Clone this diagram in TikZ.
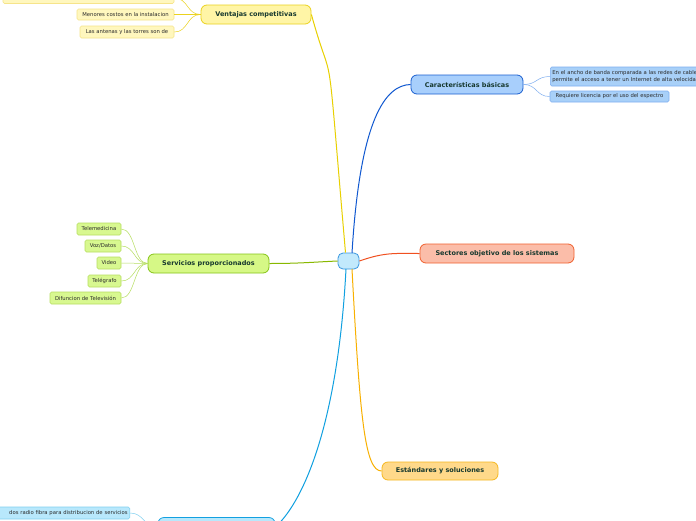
\documentclass[tikz,border=0pt]{standalone}
\usepackage{fontspec}
\setmainfont{DejaVu Sans}
\begin{document}
\begin{tikzpicture}[x=1pt,y=-1pt,
  main/.style={draw, rounded corners=6pt, line width=0.8pt, inner sep=0pt, font=\fontsize{6.5}{7.5}\selectfont\bfseries, text=txt, minimum height=19pt},
  sub/.style={draw, rounded corners=1.5pt, line width=0.6pt, inner sep=0pt, font=\fontsize{5.3}{6.3}\selectfont, text=subtxt, minimum height=11pt},
  conn/.style={line width=1pt},
  subconn/.style={line width=0.5pt}]
\definecolor{txt}{HTML}{16382E}
\definecolor{subtxt}{HTML}{2A2A2A}
\definecolor{yfill}{HTML}{FFF5A6}\definecolor{ydraw}{HTML}{EBD21E}\definecolor{yline}{HTML}{E8D000}
\definecolor{ysfill}{HTML}{FFF7BE}\definecolor{ysdraw}{HTML}{F6E48A}
\definecolor{bfill}{HTML}{A8CFFC}\definecolor{bdraw}{HTML}{1A5FD0}\definecolor{bline}{HTML}{1058D0}
\definecolor{bsfill}{HTML}{A8D0F8}\definecolor{bsdraw}{HTML}{7EAEF0}
\definecolor{rfill}{HTML}{FBBDA9}\definecolor{rdraw}{HTML}{F0602E}\definecolor{rline}{HTML}{F05020}
\definecolor{ofill}{HTML}{FFD98A}\definecolor{odraw}{HTML}{F6B820}\definecolor{oline}{HTML}{F8B000}
\definecolor{gfill}{HTML}{D6F886}\definecolor{gdraw}{HTML}{86C418}\definecolor{gline}{HTML}{88B800}
\definecolor{gsfill}{HTML}{D8F890}\definecolor{gsdraw}{HTML}{B6DE60}
\definecolor{cfill}{HTML}{C2E9FC}\definecolor{cdraw}{HTML}{3A98E0}
\definecolor{kfill}{HTML}{B8E8FC}\definecolor{kdraw}{HTML}{12A0E0}\definecolor{kline}{HTML}{10A0E0}
\definecolor{ksdraw}{HTML}{80D0F0}
\useasboundingbox (0,0) rectangle (696,520);
\clip (0,0) rectangle (696,520);
\fill[white] (0,0) rectangle (696,520);
% center
\node[draw=cdraw, fill=cfill, rounded corners=5pt, line width=0.8pt, minimum width=21pt, minimum height=16pt, inner sep=0pt] (c) at (348.5,261) {};
% main nodes
\node[main, fill=yfill, draw=ydraw, minimum width=110pt] (ven) at (256,14.5) {Ventajas competitivas};
\node[main, fill=bfill, draw=bdraw, minimum width=112pt] (car) at (467,84.5) {Características básicas};
\node[main, fill=rfill, draw=rdraw, minimum width=154pt] (sec) at (497,253.5) {Sectores objetivo de los sistemas};
\node[main, fill=ofill, draw=odraw, minimum width=116pt, minimum height=18pt] (est) at (440,471) {Estándares y soluciones};
\node[main, fill=gfill, draw=gdraw, minimum width=121pt] (ser) at (208.5,263.5) {Servicios proporcionados};
\node[main, fill=kfill, draw=kdraw, minimum width=117pt] (bot) at (216.5,527) {};
% connectors
\draw[conn, yline] (c.north) ++(-3,0) coordinate (c1) .. controls (325,16) and (335,100) .. (ven.east);
\draw[conn, bline] (352,253) coordinate (c2) .. controls (360,120) and (385,85) .. (car.west);
\draw[conn, rline] (c.east) .. controls (385,252) and (395,253.5) .. (sec.west);
\draw[conn, oline] (352,269) coordinate (c3) .. controls (360,420) and (365,471) .. (est.west);
\draw[conn, gline] (c.west) .. controls (315,262) and (300,263.5) .. (ser.east);
\draw[conn, kline] (346,269) coordinate (c4) .. controls (338,420) and (305,500) .. (bot.east);
% ventajas children
\node[sub, fill=ysfill, draw=ysdraw, minimum width=171pt] (v0) at (88.5,-2) {};
\node[sub, fill=ysfill, draw=ysdraw, minimum width=97pt] (v1) at (125.5,14.5) {Menores costos en la instalacion};
\node[sub, fill=ysfill, draw=ysdraw, minimum width=94pt, minimum height=12pt] (v2) at (127,32) {Las antenas y las torres son de};
\foreach \n in {v0,v1,v2}
  \draw[subconn, ydraw] (ven.west) .. controls +(-14,0) and +(14,0) .. (\n.east);
% caracteristicas children
\node[sub, fill=bsfill, draw=bsdraw, minimum width=170pt, minimum height=19pt, align=left, anchor=west, text width=166pt, inner xsep=2pt] (b1) at (550,76.5) {En el ancho de banda comparada a las redes de cable,\\permite el acceso a tener un Internet de alta velocidad};
\node[sub, fill=bsfill, draw=bsdraw, minimum width=119pt] (b2) at (609.5,96.5) {Requiere licencia por el uso del espectro};
\foreach \n in {b1,b2}
  \draw[subconn, bsdraw] (car.east) .. controls +(14,0) and +(-14,0) .. (\n.west);
% servicios children
\node[sub, fill=gsfill, draw=gsdraw, minimum width=44pt, minimum height=12pt] (s1) at (99,229) {Telemedicina};
\node[sub, fill=gsfill, draw=gsdraw, minimum width=36pt, minimum height=12pt] (s2) at (103,246) {Voz/Datos};
\node[sub, fill=gsfill, draw=gsdraw, minimum width=24pt, minimum height=12pt] (s3) at (109,263) {Video};
\node[sub, fill=gsfill, draw=gsdraw, minimum width=33pt, minimum height=12pt] (s4) at (104.5,281) {Telégrafo};
\node[sub, fill=gsfill, draw=gsdraw, minimum width=71pt, minimum height=12pt] (s5) at (85.5,298) {Difuncion de Televisión};
\foreach \n in {s1,s2,s3,s4,s5}
  \draw[subconn, gsdraw] (ser.west) .. controls +(-14,0) and +(14,0) .. (\n.east);
% bottom child
\node[sub, fill=kfill, draw=ksdraw, minimum width=190pt, minimum height=12pt, anchor=east, align=right, text width=186pt, inner xsep=2pt] (k1) at (130,513) {dos radio fibra para distribucion de servicios};
\draw[subconn, ksdraw] (bot.west) .. controls +(-14,0) and +(14,0) .. (k1.east);
\end{tikzpicture}
\end{document}
